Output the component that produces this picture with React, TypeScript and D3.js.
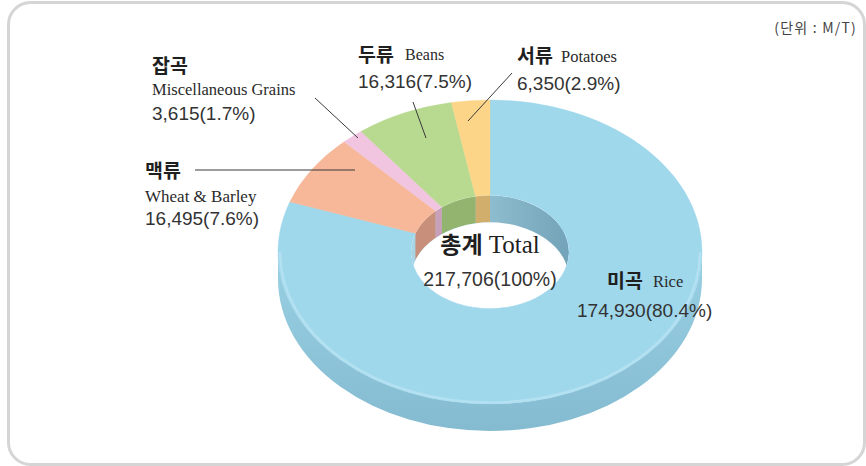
import React from "react";
import * as d3 from "d3";

// ---- data ----
const koreanNames = ["미곡", "맥류", "잡곡", "두류", "서류"];
const englishNames = ["Rice", "Wheat & Barley", "Miscellaneous Grains", "Beans", "Potatoes"];
const values = [174930, 16495, 3615, 16316, 6350];
const totalKorean = "총계";
const totalEnglish = "Total";
const unitLabel = "(단위 : M/T)";

const topColors = ["#9fd7eb", "#f6b898", "#f1c5df", "#b8da90", "#fcd588"];
const wallColors = ["#86b9cd", "#c8907a", "#c9a0b9", "#93b46f", "#d2ae6c"];

const W = 866;
const H = 466;
const cx = 490;
const cy = 252;
const R = 212;
const r = 79;
const k = 0.717;
const depth = 27;

type LabelLayout = {
  ko: [number, number];
  en: [number, number];
  enSize: number;
  num: [number, number];
  line?: [number, number, number, number];
};

const layout: LabelLayout[] = [
  { ko: [607, 288], en: [653, 287], enSize: 16.5, num: [577, 317] },
  { ko: [145, 178], en: [145, 202], enSize: 17, num: [145, 225], line: [195, 170, 355, 170] },
  { ko: [152, 73], en: [152, 95], enSize: 16.5, num: [152, 120], line: [315, 98, 358, 138] },
  { ko: [358, 62], en: [405, 60], enSize: 16, num: [358, 88], line: [413, 102, 426, 138] },
  { ko: [517, 63], en: [561, 62], enSize: 16.5, num: [517, 90], line: [512, 73, 468, 121] },
];

const pt = (rad: number, t: number, dy = 0): [number, number] => [
  cx + rad * Math.sin(t),
  cy - k * rad * Math.cos(t) + dy,
];

export default function App() {
  const total = d3.sum(values);
  const pie = d3
    .pie<number>()
    .sort(null)
    .startAngle(0)
    .endAngle(2 * Math.PI)
    .value((d) => d);
  const arcs = pie(values);
  const arcGen = d3.arc<d3.PieArcDatum<number>>().innerRadius(r).outerRadius(R);
  const fmt = d3.format(",");
  const pct = (v: number) => `${fmt(v)}(${d3.format(".1f")((v / total) * 100)}%)`;

  // outer side wall
  const side = `M${cx - R},${cy} L${cx - R},${cy + depth} A${R},${R * k} 0 0 0 ${cx + R},${cy + depth} L${cx + R},${cy} A${R},${R * k} 0 0 1 ${cx - R},${cy} Z`;
  const frontEdge = `M${cx - R + 2},${cy} A${R - 2},${(R - 2) * k} 0 0 0 ${cx + R - 2},${cy}`;

  // inner wall polygons per segment (far side visible inside the hole)
  const wallPath = (a0: number, a1: number) => {
    const n = 40;
    const top = d3.range(n + 1).map((i) => pt(r, a0 + ((a1 - a0) * i) / n));
    const bot = d3.range(n + 1).map((i) => pt(r, a1 - ((a1 - a0) * i) / n, depth));
    return "M" + [...top, ...bot].map((p) => p.join(",")).join("L") + "Z";
  };

  const numFont = "'Liberation Sans', Arial, sans-serif";
  const koFont = "'Noto Sans CJK KR', sans-serif";
  const serif = "'Liberation Serif', 'Times New Roman', serif";

  return (
    <svg
      width={W}
      height={H}
      style={{ position: "absolute", left: 0, top: 0, background: "#fff" }}
    >
      <defs>
        <linearGradient id="sideGrad" x1="0" y1="0" x2="0" y2="1">
          <stop offset="0" stopColor="#9ad0e4" />
          <stop offset="1" stopColor="#84bbd0" />
        </linearGradient>
        <linearGradient id="riceWall" x1="0" y1="0" x2="1" y2="0">
          <stop offset="0" stopColor="#a9d6e6" />
          <stop offset="1" stopColor="#73a3b8" />
        </linearGradient>
        <clipPath id="holeClip">
          <ellipse cx={cx} cy={cy} rx={r} ry={r * k} />
        </clipPath>
      </defs>

      <rect x={8.5} y={2.5} width={856} height={462} rx={22} ry={22} fill="#fff" stroke="#d5d5d5" strokeWidth={3} />

      {/* side wall */}
      <path d={side} fill="url(#sideGrad)" />

      {/* hole */}
      <g clipPath="url(#holeClip)">
        <ellipse cx={cx} cy={cy} rx={r} ry={r * k} fill="url(#riceWall)" />
        {arcs.slice(1).map((a, i) => (
          <path key={i} d={wallPath(a.startAngle, a.endAngle)} fill={wallColors[i + 1]} />
        ))}
        <ellipse cx={cx} cy={cy + depth} rx={r} ry={r * k} fill="#fff" />
      </g>

      {/* top face */}
      <g transform={`translate(${cx},${cy}) scale(1,${k})`}>
        {arcs.map((a, i) => (
          <path key={i} d={arcGen(a) || ""} fill={topColors[i]} stroke={topColors[i]} strokeWidth={0.5} />
        ))}
      </g>
      <path d={frontEdge} fill="none" stroke="#b3e1f1" strokeWidth={2.5} />

      {/* leader lines */}
      {layout.map((l, i) =>
        l.line ? (
          <line key={i} x1={l.line[0]} y1={l.line[1]} x2={l.line[2]} y2={l.line[3]} stroke="#3a3a3a" strokeWidth={1} />
        ) : null
      )}

      {/* labels */}
      {layout.map((l, i) => (
        <g key={i}>
          <text x={l.ko[0]} y={l.ko[1]} fontFamily={koFont} fontWeight={700} fontSize={19.5} fill="#1f1f1f">
            {koreanNames[i]}
          </text>
          <text x={l.en[0]} y={l.en[1]} fontFamily={serif} fontSize={l.enSize} fill="#2a2a2a">
            {englishNames[i]}
          </text>
          <text x={l.num[0]} y={l.num[1]} fontFamily={numFont} fontSize={19} fill="#333">
            {pct(values[i])}
          </text>
        </g>
      ))}

      {/* center */}
      <text x={cx} y={253} textAnchor="middle" fill="#1f1f1f">
        <tspan fontFamily={koFont} fontWeight={700} fontSize={23}>{totalKorean}</tspan>
        <tspan fontFamily={serif} fontSize={25} dx={6}>{totalEnglish}</tspan>
      </text>
      <text x={cx} y={286} textAnchor="middle" fontFamily={numFont} fontSize={19.5} fill="#333">
        {`${fmt(total)}(100%)`}
      </text>

      <text x={857} y={33} textAnchor="end" fontFamily={koFont} fontSize={14} letterSpacing={1.2} fill="#444">
        {unitLabel}
      </text>
    </svg>
  );
}
